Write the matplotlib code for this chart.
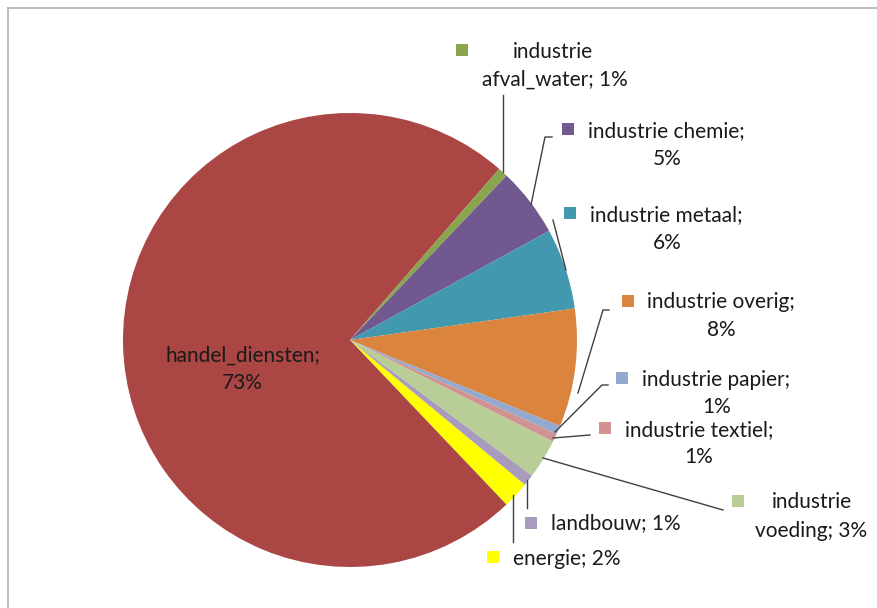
import matplotlib.pyplot as plt
from matplotlib.lines import Line2D

# ── Data ──────────────────────────────────────────────────────────────────────
# clockwise order as drawn, starting at the energie slice
categories = ['energie', 'handel_diensten', 'industrie afval_water',
              'industrie chemie', 'industrie metaal', 'industrie overig',
              'industrie papier', 'industrie textiel', 'industrie voeding',
              'landbouw']
values = [1.9, 73.4, 0.7, 4.9, 5.75, 8.4, 0.6, 0.6, 2.8, 0.8]
pct_labels = ['2%', '73%', '1%', '5%', '6%', '8%', '1%', '1%', '3%', '1%']
colors = ['#FFFF00', '#AA4643', '#89A54E', '#71588F', '#4198AF',
          '#DB843D', '#93A9CF', '#D19392', '#B9CD96', '#A99BBD']

W, H = 877, 608
FONT = 'Lato'
FS = 15
TXT = '#1a1a1a'

fig = plt.figure(figsize=(W / 100, H / 100), dpi=100)
ax = fig.add_axes([0, 0, 1, 1])

def py(y):
    # pixel row (top = 0) -> data y
    return H - y

ax.pie(values, colors=colors, startangle=-39.6, counterclock=False,
       center=(350, py(340)), radius=227,
       wedgeprops={'linewidth': 0})

ax.set_xlim(0, W)
ax.set_ylim(0, H)
ax.set_aspect('equal')
ax.axis('off')

# ── Labels: (key square, text lines, leader line) in pixel coords ─────────────
layout = {
    'energie': ((493, 557), [(567, 559)], [(513, 495), (513, 542)]),
    'handel_diensten': (None, [(243, 356), (242, 383)], None),
    'industrie afval_water': ((462, 50), [(553, 52), (555, 80)],
                              [(503, 172), (503, 95)]),
    'industrie chemie': ((568, 129), [(666, 131), (667, 159)],
                         [(531, 205), (545, 137), (552, 137)]),
    'industrie metaal': ((570, 213), [(666, 215), (667, 243)],
                         [(566, 270), (553, 220)]),
    'industrie overig': ((628, 301), [(721, 302), (721, 330)],
                         [(578, 393), (603, 310), (609, 310)]),
    'industrie papier': ((622, 378), [(716, 380), (717, 407)],
                         [(555, 432), (602, 385), (608, 385)]),
    'industrie textiel': ((605, 428), [(699, 430), (699, 457)],
                          [(553, 438), (590, 435)]),
    'industrie voeding': ((738, 501), [(812, 502), (811, 531)],
                          [(543, 458), (723, 510)]),
    'landbouw': ((531, 523), [(616, 523)], [(527, 480), (527, 508)]),
}

def label_lines(name, pct):
    if name == 'industrie afval_water':
        return ['industrie', 'afval_water; ' + pct]
    if name == 'industrie voeding':
        return ['industrie', 'voeding; ' + pct]
    if name in ('energie', 'landbouw'):
        return [f'{name}; {pct}']
    return [name + ';', pct]

for name, pct, col in zip(categories, pct_labels, colors):
    key, pos, leader = layout[name]
    if leader:
        xs = [p[0] for p in leader]
        ys = [py(p[1]) for p in leader]
        ax.add_line(Line2D(xs, ys, color='#404040', lw=1.0))
    if key:
        ax.plot(key[0], py(key[1]), marker='s', markersize=8.5, color=col,
                markeredgewidth=0, linestyle='none')
    for (x, y), txt in zip(pos, label_lines(name, pct)):
        ax.text(x, py(y), txt, ha='center', va='center', fontsize=FS,
                family=FONT, color=TXT)

# chart-area frame (only top and left edges visible)
ax.add_line(Line2D([7.5, 7.5], [0, py(8)], color='#b0b0b0', lw=1.2))
ax.add_line(Line2D([7.5, W], [py(8), py(8)], color='#b0b0b0', lw=1.2))

fig.savefig('out.png', dpi=100, facecolor='white')
